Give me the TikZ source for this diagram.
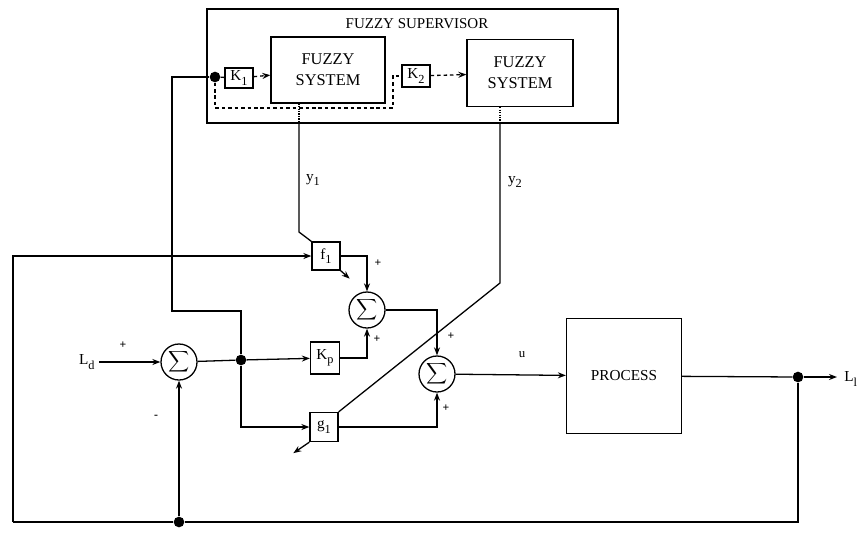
\documentclass[tikz,border=0pt]{standalone}
\usepackage{fontspec}
\setmainfont{Liberation Serif}
\usepackage{tikz}
\usetikzlibrary{arrows.meta,positioning,calc}
\newcommand{\lowsub}[1]{\raisebox{-0.6ex}{\fontsize{10.5}{11}\selectfont #1}}
\newcommand{\sumsym}{\scalebox{1.25}{$\displaystyle\sum$}}
\tikzset{
  blk/.style={draw,line width=1.1pt,minimum width=8.4mm,minimum height=8.4mm,
              inner sep=0pt,font=\fontsize{13}{14}\selectfont},
  fzblk/.style={draw,line width=1.1pt,align=center,inner sep=0pt,
                font=\fontsize{14}{18}\selectfont},
  supbox/.style={draw,line width=1.1pt,minimum width=123.3mm,minimum height=34.2mm},
  sumnode/.style={circle,draw,line width=1.1pt,minimum size=10.8mm,inner sep=0pt},
  junc/.style={circle,fill,inner sep=0pt,minimum size=3.2mm},
  wire/.style={line width=1.1pt},
  sig/.style={wire,-{Stealth[length=2.4mm,width=1.8mm]}},
  dwire/.style={line width=1.1pt,dash pattern=on 3pt off 2.5pt},
  dsig/.style={dwire,-{Stealth[length=2.4mm,width=1.8mm]}},
  lbl/.style={font=\fontsize{13}{14}\selectfont,inner sep=1pt},
  sgn/.style={font=\fontsize{10}{11}\selectfont\bfseries,inner sep=0pt}
}
\begin{document}
\begin{tikzpicture}[x=0.3mm,y=-0.3mm]
    \useasboundingbox (0,0) rectangle (859,532);

    % fuzzy supervisor
    \node[supbox] (sup) at (412.5,66) {};
    \node[font=\fontsize{12.8}{14}\selectfont] (suptitle) at (417,24) {FUZZY SUPERVISOR};
    \node[junc] (dotE) at (215,77) {};
    \node[blk,minimum height=6mm] (K1) at (239,78) {K\lowsub{1}};
    \node[fzblk,minimum width=34.2mm,minimum height=19.8mm] (FS1) at (328,70) {FUZZY\\SYSTEM};
    \node[blk,minimum height=6.6mm] (K2) at (416,76) {K\lowsub{2}};
    \node[fzblk,minimum width=31.8mm,minimum height=20.1mm] (FS2) at (520,73) {FUZZY\\SYSTEM};

    % controller blocks
    \node[blk] (f1) at (326,256) {f\lowsub{1}};
    \node[blk,minimum width=8.7mm,minimum height=9.6mm] (Kp) at (325,358) {K\lowsub{p}};
    \node[blk,minimum height=8.7mm] (g1) at (324,427) {g\lowsub{1}};
    \node[sumnode] (S1) at (179,362) {\sumsym};
    \node[sumnode] (S2) at (367,310) {\sumsym};
    \node[sumnode] (S3) at (437,374) {\sumsym};
    \node[blk,minimum width=34.5mm,minimum height=34.5mm] (proc) at (624,376) {PROCESS};
    \node[junc] (J) at (241,360) {};
    \node[junc] (F) at (179,522) {};
    \node[junc] (O) at (798,377) {};

    % labels
    \node[lbl,anchor=east] (Ld) at (96,362) {L\lowsub{d}};
    \node[lbl,anchor=west] (Lout) at (843,379) {L\lowsub{l}};
    \node[lbl] (ylab1) at (313,180) {y\lowsub{1}};
    \node[lbl] (ylab2) at (515,182) {y\lowsub{2}};
    \node[lbl,font=\fontsize{11}{12}\selectfont] (ulab) at (522,355) {u};

    \coordinate (ldin) at (99,362);
    \coordinate (lend) at (837,377);
    \coordinate (eUp) at (172,311);
    \coordinate (dcorner) at (393,108);
    \coordinate (y1a) at (299,123);
    \coordinate (y1b) at (299,232);
    \coordinate (y2a) at (500,123);
    \coordinate (y2b) at (500,283);
    \coordinate (fbl) at (13,522);

    % supervisor signals
    \draw[wire] (J) |- (eUp) |- (dotE);
    \draw[wire] (dotE) -- (K1);
    \draw[dsig] (K1) -- (FS1);
    \draw[dwire] (dotE) |- (dcorner) |- (K2.west);
    \draw[dsig] (K2) -- (FS2);
    \draw[wire,densely dotted] (y1a |- FS1.south) -- (y1a);
    \draw[wire] (y1a) -- (y1b) -- (f1.north west);
    \draw[wire,densely dotted] (y2a |- FS2.south) -- (y2a);
    \draw[wire] (y2a) -- (y2b) -- (g1.north east);
    \draw[sig] (f1.south east) -- ++(9,8);
    \draw[sig] (g1.south west) -- ++(-16,11);

    % main loop
    \draw[sig] (ldin) -- (S1);
    \draw[wire] (S1) -- (J);
    \draw[sig] (J) -- (Kp);
    \draw[sig] (J) |- (g1);
    \draw[sig] (f1) -| (S2);
    \draw[sig] (Kp) -| (S2);
    \draw[sig] (S2) -| (S3);
    \draw[sig] (g1) -| (S3);
    \draw[sig] (S3) -- (proc);
    \draw[wire] (proc) -- (O);
    \draw[sig] (O) -- (lend);
    \draw[wire] (O) |- (F) -- (fbl);
    \draw[sig] (fbl) |- (f1);
    \draw[sig] (F) -- (S1);

    \node[sgn] at (123,345) {+};
    \node[sgn] at (156,417) {-};
    \node[sgn] at (378,263) {+};
    \node[sgn] at (377,339) {+};
    \node[sgn] at (451,336) {+};
    \node[sgn] at (446,408) {+};
  \end{tikzpicture}
\end{document}
